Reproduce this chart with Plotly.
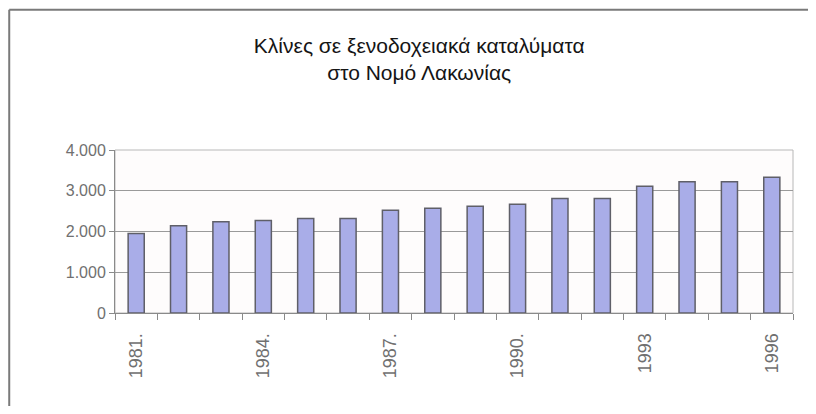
import plotly.graph_objects as go

years = list(range(1981, 1997))
beds = [1950, 2140, 2240, 2270, 2320, 2320, 2520, 2570, 2620, 2670, 2810, 2810, 3110, 3220, 3220, 3330]
tick_years = [1981, 1984, 1987, 1990, 1993, 1996]
tick_labels = ["1981.", "1984.", "1987.", "1990.", "1993", "1996"]
y_ticks = [0, 1000, 2000, 3000, 4000]
title_text = "Κλίνες σε ξενοδοχειακά καταλύματα<br>στο Νομό Λακωνίας"

FONT = "Liberation Sans, Arial, sans-serif"

fig = go.Figure(go.Bar(
    x=years, y=beds,
    marker=dict(color="#A9ADE8", line=dict(color="#5f5f68", width=1.5)),
    width=0.38,
))

# page body has an 8px margin, so the figure is drawn 8px in from the window edge
fig.update_layout(
    width=800, height=398,
    margin=dict(l=107, r=15, t=142, b=93),
    paper_bgcolor="white", plot_bgcolor="#FEFCFC",
    separators=",.",
    showlegend=False,
    title=dict(text=title_text, x=0.514, xanchor="center", xref="container",
               y=0.887, yanchor="top", yref="container",
               font=dict(family=FONT, size=21, color="#151515")),
    font=dict(family=FONT),
)

fig.update_xaxes(
    range=[1980.5, 1996.5], automargin=False,
    tickmode="array", tickvals=tick_years, ticktext=tick_labels,
    tickangle=-90, ticklen=0, ticks="outside",
    tickfont=dict(family=FONT, size=18, color="#707070"),
    ticklabelstandoff=12,
    showline=True, linecolor="#8a8a8a", linewidth=1,
    showgrid=False, zeroline=False,
    minor=dict(tickmode="linear", tick0=1980.5, dtick=1, ticks="outside",
               ticklen=6, tickcolor="#8a8a8a", showgrid=False),
)

fig.update_yaxes(
    range=[0, 4000], automargin=False,
    tickmode="array", tickvals=y_ticks, tickformat=",d",
    ticks="outside", ticklen=5, tickcolor="#8a8a8a",
    tickfont=dict(family=FONT, size=16, color="#707070"),
    showline=True, linecolor="#8a8a8a", linewidth=1,
    showgrid=True, gridcolor="#9a9a9a", gridwidth=1,
    zeroline=False,
)

# plot area border (top and right)
fig.add_shape(type="rect", xref="paper", yref="paper", x0=0, x1=1, y0=0, y1=1,
              line=dict(color="#b8b8b8", width=1), layer="below")
# outer frame of the chart (left and top edges visible)
fig.add_shape(type="line", xref="paper", yref="paper", x0=-0.156, x1=-0.156, y0=-0.7, y1=1.86,
              line=dict(color="#7a7a7a", width=2))
fig.add_shape(type="line", xref="paper", yref="paper", x0=-0.156, x1=1.1, y0=1.86, y1=1.86,
              line=dict(color="#7a7a7a", width=2))

fig.write_html("out.html")
